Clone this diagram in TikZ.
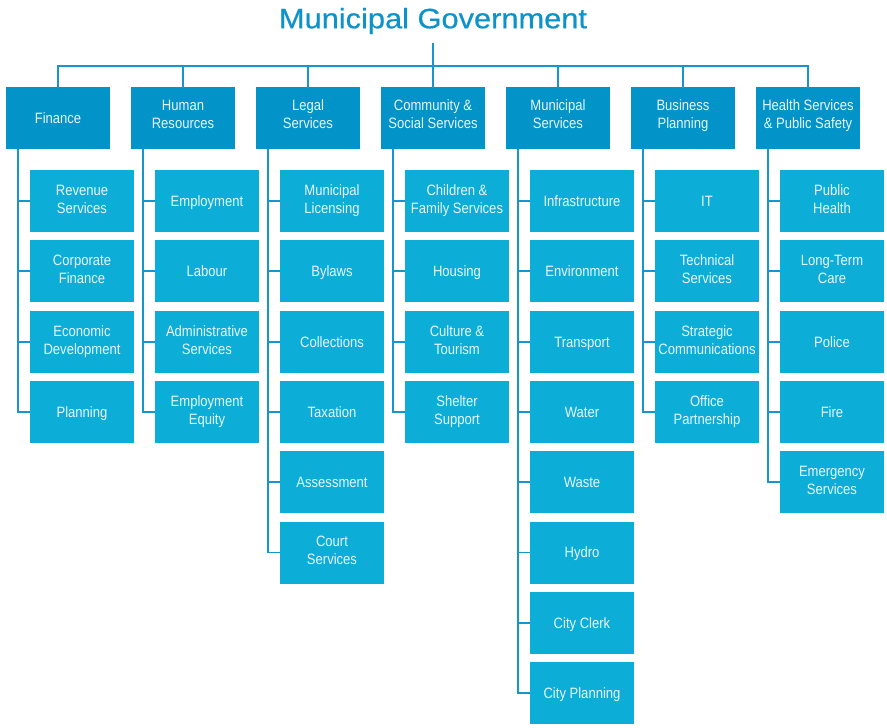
\documentclass[tikz,border=0pt]{standalone}
\usepackage{fontspec}
\setmainfont{Liberation Sans}[FakeStretch=0.87]
\newfontfamily\titlefont{Liberation Sans}[FakeStretch=1.1,FakeBold=0.6]
\definecolor{parentblue}{RGB}{2,148,200}
\definecolor{childblue}{RGB}{12,174,216}
\definecolor{lineblue}{RGB}{22,150,204}
\definecolor{titleblue}{RGB}{14,146,202}
\definecolor{boxtext}{RGB}{232,246,252}
\newcommand\orgstrut{\rule[-3.55pt]{0pt}{18pt}}
\newcommand\orgdeepstrut{\rule[-7.1pt]{0pt}{7.1pt}}
\tikzset{
  boxbase/.style={rectangle, minimum width=104pt, minimum height=62pt,
    inner sep=0pt, text=boxtext, align=center, font=\fontsize{15}{18}\selectfont,
    execute at begin node=\orgstrut, execute at end node=\orgstrut},
  parentbox/.style={boxbase, fill=parentblue},
  parenttwo/.style={parentbox, execute at end node=\orgdeepstrut},
  childbox/.style={boxbase, fill=childblue},
  conn/.style={draw=lineblue, line width=1.8pt}
}
\newcommand\makeorgcol[4]{%
  \node[#4] (p#1) at ({58+125*(#1-1)},118) {#2};
  \draw[conn] (bus) -| (p#1.north);
  \foreach \t [count=\k] in {#3} {
    \node[childbox] (c#1-\k) at ({82+125*(#1-1)},{201+70.3*(\k-1)}) {\t};
    \draw[conn] ([xshift=12pt]p#1.south west) |- (c#1-\k.west);
  }
}
\begin{document}
\begin{tikzpicture}[x=1pt,y=-1pt]
\useasboundingbox (0,0) rectangle (887,728);
\node[font=\titlefont\fontsize{28}{32}\selectfont, text=titleblue, inner sep=0pt] (title) at (433,21) {Municipal Government};
\coordinate (tt) at (433,43);
\coordinate (bus) at (433,66);
\draw[conn] (tt) -- (bus);
\makeorgcol{1}{Finance}{{Revenue\\Services},{Corporate\\Finance},{Economic\\Development},{Planning}}{parentbox}
\makeorgcol{2}{Human\\Resources}{{Employment},{Labour},{Administrative\\Services},{Employment\\Equity}}{parenttwo}
\makeorgcol{3}{Legal\\Services}{{Municipal\\Licensing},{Bylaws},{Collections},{Taxation},{Assessment},{Court\\Services}}{parenttwo}
\makeorgcol{4}{Community \&\\Social Services}{{Children \&\\Family Services},{Housing},{Culture \&\\Tourism},{Shelter\\Support}}{parenttwo}
\makeorgcol{5}{Municipal\\Services}{{Infrastructure},{Environment},{Transport},{Water},{Waste},{Hydro},{City Clerk},{City Planning}}{parenttwo}
\makeorgcol{6}{Business\\Planning}{{IT},{Technical\\Services},{Strategic\\Communications},{Office\\Partnership}}{parenttwo}
\makeorgcol{7}{Health Services\\\& Public Safety}{{Public\\Health},{Long-Term\\Care},{Police},{Fire},{Emergency\\Services}}{parenttwo}
\end{tikzpicture}
\end{document}
